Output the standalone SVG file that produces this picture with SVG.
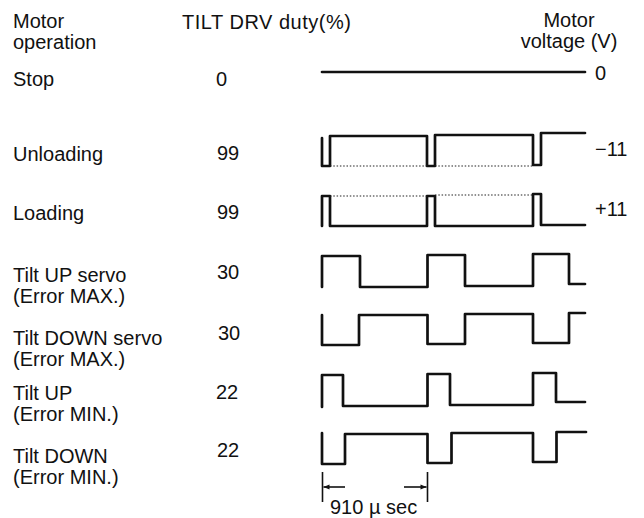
<svg xmlns="http://www.w3.org/2000/svg" width="644" height="518" viewBox="0 0 644 518">
<defs>
<style>
text{font-family:"Liberation Sans",Arial,sans-serif;font-size:20px;fill:#111}
.w{fill:none;stroke:#111;stroke-width:2.7;stroke-linejoin:round;stroke-linecap:round}
.d{fill:none;stroke:#222;stroke-width:1.2;stroke-dasharray:1.5 1.8}
.t{fill:none;stroke:#111;stroke-width:1.6}
.m{text-anchor:middle}
</style>
<marker id="ah" viewBox="0 0 10 10" refX="10" refY="5" markerWidth="10" markerHeight="6" markerUnits="userSpaceOnUse" orient="auto">
<path d="M0,1 L10,5 L0,9 Z" fill="#111"/>
</marker>
</defs>
<rect width="644" height="518" fill="#fff"/>

<g id="header">
<text x="13" y="28">Motor</text>
<text x="13" y="49">operation</text>
<text x="182" y="29" textLength="169" lengthAdjust="spacing">TILT DRV duty(%)</text>
<text x="569" y="27" class="m">Motor</text>
<text x="569" y="48" class="m">voltage (V)</text>
</g>

<g id="stop">
<text x="13" y="86">Stop</text>
<text x="216" y="86">0</text>
<path class="w" d="M322,72 H585"/>
<text x="595" y="80">0</text>
</g>

<g id="unloading">
<text x="13" y="161">Unloading</text>
<text x="217" y="160">99</text>
<path class="w" d="M322,138 V166 H330 V136 H427 V166 H435 V135 H533 V165 H541 V133 H585"/>
<path class="d" d="M330,166 H427 M435,166 H533"/>
<text x="595" y="156">−11</text>
</g>

<g id="loading">
<text x="13" y="220">Loading</text>
<text x="217" y="219">99</text>
<path class="w" d="M322,226 V196 H330 V226 H427 V196 H435 V226 H533 V194 H541 V225 H585"/>
<path class="d" d="M330,196 H427 M435,195 H533"/>
<text x="595" y="216">+11</text>
</g>

<g id="tilt-up-servo">
<text x="13" y="282">Tilt UP servo</text>
<text x="13" y="303">(Error MAX.)</text>
<text x="217" y="279">30</text>
<path class="w" d="M322,287 V256 H360 V287 H427.5 V255 H465 V286 H533 V254 H569 V284 H585"/>
</g>

<g id="tilt-down-servo">
<text x="13" y="345">Tilt DOWN servo</text>
<text x="13" y="366">(Error MAX.)</text>
<text x="218" y="340">30</text>
<path class="w" d="M322,315 V345 H359 V315 H427.5 V344 H465 V314 H533 V343 H569 V313 H585"/>
</g>

<g id="tilt-up">
<text x="13" y="400">Tilt UP</text>
<text x="13" y="421">(Error MIN.)</text>
<text x="216" y="399">22</text>
<path class="w" d="M322,407 V375 H343 V406 H427.5 V374 H450 V405 H533 V373 H556 V402 H585"/>
</g>

<g id="tilt-down">
<text x="13" y="463">Tilt DOWN</text>
<text x="13" y="484">(Error MIN.)</text>
<text x="217" y="457">22</text>
<path class="w" d="M322,433 V464 H345 V434 H427.5 V463 H451.5 V433 H533 V462 H556.5 V432 H586"/>
</g>

<g id="connectors">
<path class="t" d="M322.5,472 V502 M427.5,472 V502"/>
<path class="t" d="M345,487 H323.5" marker-end="url(#ah)"/>
<path class="t" d="M404,487 H426.5" marker-end="url(#ah)"/>
<text x="330" y="514">910 µ sec</text>
</g>
</svg>
